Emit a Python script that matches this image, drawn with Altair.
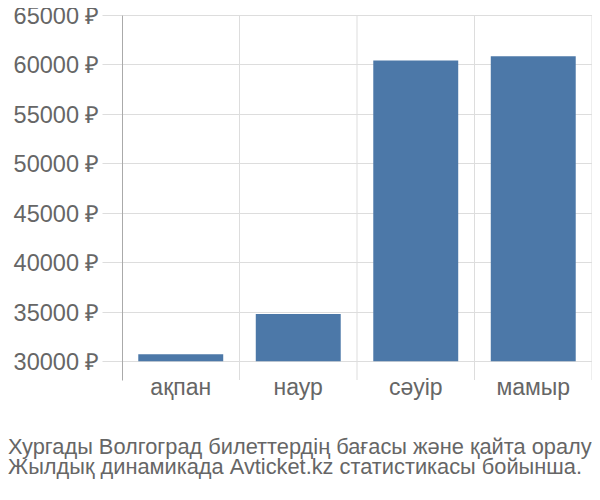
import altair as alt
import pandas as pd

months = ["ақпан", "наур", "сәуір", "мамыр"]
prices = [30700, 34770, 60400, 60840]
y_ticks = [30000, 35000, 40000, 45000, 50000, 55000, 60000, 65000]
title_lines = [
    "Хургады Волгоград билеттердің бағасы және қайта оралу",
    "Жылдық динамикада Avticket.kz статистикасы бойынша.",
]

df = pd.DataFrame({"month": months, "price": prices})

FONT = "Liberation Sans"
GRAY = "#666666"
GRID = "#dddddd"
W, H = 470, 365

xscale = alt.Scale(domain=months, paddingInner=0, paddingOuter=0)
yscale = alt.Scale(domain=[28100, 65000], nice=False, zero=False)

bars = alt.Chart(df).mark_bar(color="#4c78a8", width={"band": 0.723}).encode(
    x=alt.X(
        "month:N",
        scale=xscale,
        sort=months,
        axis=alt.Axis(
            title=None,
            labelAngle=0,
            labelAlign="center",
            bandPosition=0.5,
            labelFont=FONT,
            labelFontSize=23,
            labelColor=GRAY,
            labelPadding=7,
            ticks=False,
            domain=False,
            grid=False,
        ),
    ),
    y=alt.Y(
        "price:Q",
        scale=yscale,
        axis=alt.Axis(
            title=None,
            values=y_ticks,
            labelExpr="datum.value + ' ₽'",
            labelFont=FONT,
            labelFontSize=23.5,
            labelColor=GRAY,
            labelPadding=3,
            labelOffset=1.5,
            tickSize=20,
            tickColor=GRID,
            gridColor=GRID,
            domainColor="#aaaaaa",
            domainWidth=1,
        ),
    ),
    y2=alt.datum(30000),
)

edge = alt.Chart(df).mark_rule(color=GRID).encode(
    x=alt.X("month:N", scale=xscale, sort=months, bandPosition=1),
    y=alt.value(0),
    y2=alt.value(H),
)

chart = (
    alt.layer(edge, bars)
    .properties(
        width=W,
        height=H,
        autosize=alt.AutoSizeParams(type="none"),
        padding={"left": 114, "top": 7, "right": 0, "bottom": 112},
        title=alt.TitleParams(
            text=title_lines,
            orient="bottom",
            anchor="start",
            frame="group",
            dx=-114,
            offset=38,
            font=FONT,
            fontSize=21.8,
            fontWeight="normal",
            color=GRAY,
            lineHeight=19.5,
        ),
    )
    .configure_view(stroke=None)
)

chart.save("out.html", embed_options={"renderer": "svg", "actions": False})
